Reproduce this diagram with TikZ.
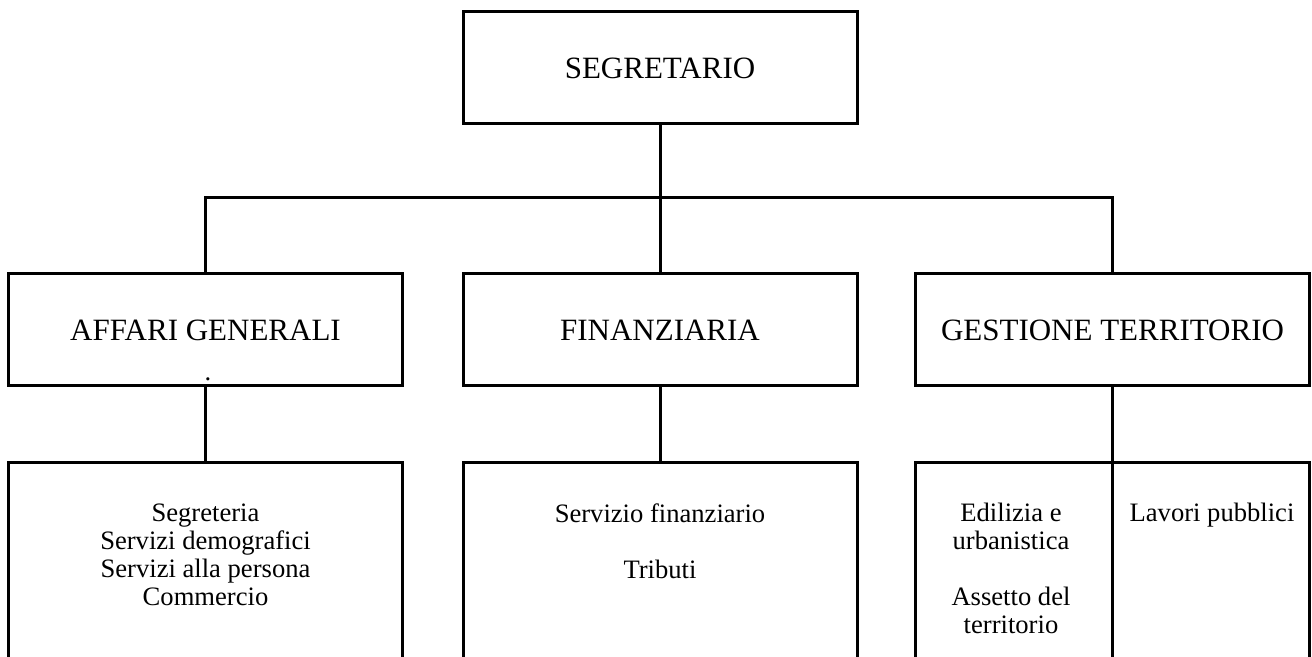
\documentclass[tikz,border=0pt]{standalone}
\usepackage{fontspec}
\setmainfont{Liberation Serif}
\usetikzlibrary{positioning}

\tikzset{
  ufficio/.style={draw, line width=1.5pt, minimum width=197pt, minimum height=56pt,
    inner sep=0pt, font=\fontsize{15.5}{18}\selectfont},
  servizi/.style={draw, line width=1.5pt, minimum width=197pt, minimum height=120pt,
    anchor=north, inner sep=0pt},
  voci/.style={align=center, inner sep=0pt, font=\fontsize{13.3}{14}\selectfont},
  linea/.style={line width=1.5pt}
}

\begin{document}
\begin{tikzpicture}[x=0.5pt,y=-0.5pt]

\useasboundingbox (0,0) rectangle (1312,657);
\clip (0,0) rectangle (1312,657);

% Vertice
  \node[ufficio] (seg) at (660,68) {SEGRETARIO};

% Aree
  \node[ufficio] (aff) at (205.5,330) {AFFARI GENERALI};
  \node[ufficio] (fin) at (660,330) {FINANZIARIA};
  \node[ufficio] (ges) at (1112.5,330) {GESTIONE TERRITORIO};
  \node[voci] (punto) at (208,379) {.};

% Servizi
  \node[servizi] (affsub) at (205.5,461) {};
  \node[servizi] (finsub) at (660,461) {};
  \node[servizi] (gessub) at (1112.5,461) {};
  \draw[linea] (gessub.north) -- (gessub.south);

  \node[voci, below=21pt of affsub.north] (affvoci)
    {Segreteria\\Servizi demografici\\Servizi alla persona\\Commercio};
  \node[voci, below=21pt of finsub.north] (finvoci)
    {Servizio finanziario\\[14pt]Tributi};
  \node[voci, anchor=north] (edil) at (1011,503)
    {Edilizia e\\urbanistica\\[14pt]Assetto del\\territorio};
  \node[voci, anchor=north] (lavori) at (1212,503) {Lavori pubblici};

% Collegamenti
  \coordinate (bus) at (660,198);
  \draw[linea] (seg.south) -- (bus);
  \draw[linea] (aff.north) |- (bus) -| (ges.north);
  \draw[linea] (bus) -- (fin.north);
  \foreach \a in {aff,fin,ges}
    \draw[linea] (\a.south) -- (\a sub.north);

\end{tikzpicture}
\end{document}
